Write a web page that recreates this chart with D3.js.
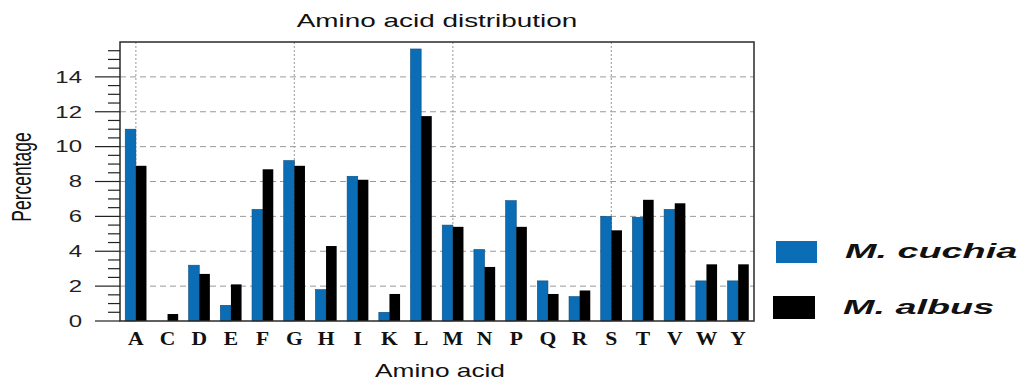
<!DOCTYPE html>
<html>
<head>
<meta charset="utf-8">
<script src="https://cdn.jsdelivr.net/npm/d3@7"></script>
<style>
  html, body { margin: 0; padding: 0; background: #fff; }
  svg { display: block; }
</style>
</head>
<body>
<svg id="chart" width="1024" height="383"></svg>
<script>
// Amino acid composition (%) of the two species
const categories = ["A","C","D","E","F","G","H","I","K","L","M","N","P","Q","R","S","T","V","W","Y"];
const cuchia = [11.0, 0, 3.2, 0.9, 6.4, 9.2, 1.8, 8.3, 0.5, 15.6, 5.5, 4.1, 6.9, 2.3, 1.4, 6.0, 5.95, 6.4, 2.3, 2.3];
const albus  = [8.9, 0.4, 2.7, 2.1, 8.7, 8.9, 4.3, 8.1, 1.55, 11.75, 5.4, 3.1, 5.4, 1.55, 1.75, 5.2, 6.95, 6.75, 3.25, 3.25];
const seriesNames = ["M. cuchia", "M. albus"];
const yTicks = [0, 2, 4, 6, 8, 10, 12, 14];

const colors = ["#0a6db5", "#000000"];
const sans = "'Liberation Sans', Arial, sans-serif";
const serif = "'Liberation Serif', 'Times New Roman', serif";
const stretch = 1.55;

const svg = d3.select("#chart");
const plot = { left: 120, right: 754, top: 42, bottom: 321 };

const x = d3.scaleBand().domain(categories).range([plot.left, plot.right]).padding(0);
const y = d3.scaleLinear().domain([0, 16]).range([plot.bottom, plot.top]);
const barW = x.bandwidth() * 0.335;
const cx = c => x(c) + x.bandwidth() / 2;

// horizontal dashed grid
svg.append("g").selectAll("line")
  .data(yTicks.filter(t => t > 0))
  .join("line")
  .attr("x1", plot.left).attr("x2", plot.right)
  .attr("y1", d => y(d)).attr("y2", d => y(d))
  .attr("stroke", "#9a9a9a").attr("stroke-width", 1)
  .attr("stroke-dasharray", "6,4");

// vertical dotted grid every fifth residue
svg.append("g").selectAll("line")
  .data(categories.filter((c, i) => i % 5 === 0))
  .join("line")
  .attr("x1", d => cx(d)).attr("x2", d => cx(d))
  .attr("y1", plot.top).attr("y2", plot.bottom)
  .attr("stroke", "#a8a8a8").attr("stroke-width", 1.2)
  .attr("stroke-dasharray", "2,2");

// bars
const rows = categories.map((c, i) => ({ c, v: [cuchia[i], albus[i]] }));
const groups = svg.append("g").selectAll("g")
  .data(rows).join("g");
groups.selectAll("rect")
  .data(d => d.v.map((v, k) => ({ c: d.c, v, k })))
  .join("rect")
  .filter(d => d.v > 0)
  .attr("x", d => cx(d.c) + (d.k === 0 ? -barW : 0))
  .attr("y", d => y(d.v))
  .attr("width", barW)
  .attr("height", d => y(0) - y(d.v))
  .attr("fill", d => colors[d.k])
  .attr("stroke", d => d.k === 0 ? "#0b4c7e" : "none")
  .attr("stroke-width", 0.6);

// frame
svg.append("rect")
  .attr("x", plot.left).attr("y", plot.top)
  .attr("width", plot.right - plot.left).attr("height", plot.bottom - plot.top)
  .attr("fill", "none").attr("stroke", "#2a2a2a").attr("stroke-width", 1.5);

// y axis ticks (major + minor every 0.5)
const minor = d3.range(0, 16.01, 0.5).filter(v => v % 2 !== 0);
svg.append("g").selectAll("line")
  .data(minor).join("line")
  .attr("x1", plot.left - 12).attr("x2", plot.left)
  .attr("y1", d => y(d)).attr("y2", d => y(d))
  .attr("stroke", "#222").attr("stroke-width", 1.2);
svg.append("g").selectAll("line")
  .data(yTicks).join("line")
  .attr("x1", plot.left - 25).attr("x2", plot.left)
  .attr("y1", d => y(d)).attr("y2", d => y(d))
  .attr("stroke", "#222").attr("stroke-width", 1.2);
svg.append("g").selectAll("text")
  .data(yTicks).join("text")
  .attr("transform", d => `translate(82,${y(d) + 5.8}) scale(1.5,1)`)
  .attr("text-anchor", "end")
  .attr("font-family", sans).attr("font-size", 16)
  .attr("fill", "#222")
  .text(d => d);

// x category labels
svg.append("g").selectAll("text")
  .data(categories).join("text")
  .attr("transform", d => `translate(${cx(d)},345) scale(1.2,1)`)
  .attr("text-anchor", "middle")
  .attr("font-family", serif).attr("font-weight", "bold").attr("font-size", 18)
  .attr("fill", "#111")
  .text(d => d);

// titles
svg.append("text")
  .attr("transform", `translate(${(plot.left + plot.right) / 2},27) scale(${stretch},1)`)
  .attr("text-anchor", "middle")
  .attr("font-family", sans).attr("font-size", 18).attr("fill", "#111")
  .text("Amino acid distribution");
svg.append("text")
  .attr("transform", `translate(${(plot.left + plot.right) / 2 + 3},377) scale(1.46,1)`)
  .attr("text-anchor", "middle")
  .attr("font-family", sans).attr("font-size", 18).attr("fill", "#111")
  .text("Amino acid");
svg.append("text")
  .attr("transform", `translate(31,177) scale(${stretch},1) rotate(-90)`)
  .attr("text-anchor", "middle")
  .attr("font-family", sans).attr("font-size", 17.5).attr("fill", "#111")
  .text("Percentage");

// legend
const legend = [
  { name: seriesNames[0], color: colors[0], sx: 776, sy: 241, sw: 41, sh: 22, tx: 845, ty: 258 },
  { name: seriesNames[1], color: colors[1], sx: 773, sy: 296, sw: 42, sh: 23, tx: 843, ty: 314 }
];
const lg = svg.append("g").selectAll("g").data(legend).join("g");
lg.append("rect")
  .attr("x", d => d.sx).attr("y", d => d.sy)
  .attr("width", d => d.sw).attr("height", d => d.sh)
  .attr("fill", d => d.color);
lg.append("text")
  .attr("transform", d => `translate(${d.tx},${d.ty}) scale(1.8,1)`)
  .attr("font-family", sans).attr("font-weight", "bold").attr("font-style", "italic")
  .attr("font-size", 21).attr("fill", "#111")
  .text(d => d.name);
</script>
</body>
</html>
